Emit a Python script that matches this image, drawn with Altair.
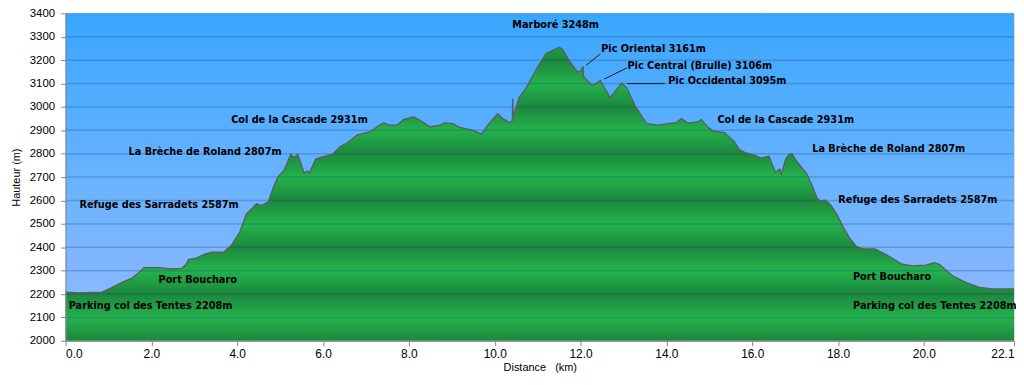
import altair as alt
import pandas as pd

# ---- profile data (km, m) ----
dist_km = [0.0, 0.3, 0.85, 1.05, 1.32, 1.55, 1.71, 1.83, 2.17, 2.45, 2.71, 2.80, 2.87, 3.02, 3.25, 3.40,
           3.68, 3.87, 4.06, 4.21, 4.45, 4.56, 4.72, 4.85, 4.95, 5.10, 5.25, 5.30, 5.37, 5.41, 5.56, 5.64,
           5.68, 5.83, 5.95, 6.22, 6.41, 6.56, 6.80, 7.10, 7.26, 7.41, 7.53, 7.72, 7.88, 8.11, 8.26, 8.49,
           8.72, 8.84, 9.03, 9.15, 9.34, 9.49, 9.69, 9.84, 10.07, 10.19, 10.34, 10.41, 10.42, 10.43, 10.57,
           10.73, 10.96, 11.19, 11.50, 11.58, 11.73, 11.92, 12.00, 12.06, 12.07, 12.27, 12.38, 12.46, 12.69,
           12.81, 12.96, 13.08, 13.27, 13.54, 13.81, 14.04, 14.23, 14.35, 14.50, 14.73, 14.81, 14.96, 15.08,
           15.35, 15.58, 15.70, 15.85, 16.04, 16.20, 16.39, 16.54, 16.64, 16.68, 16.78, 16.87, 16.93, 17.00,
           17.16, 17.27, 17.39, 17.51, 17.58, 17.70, 17.78, 17.85, 17.97, 18.12, 18.28, 18.43, 18.59, 18.86,
           19.05, 19.28, 19.47, 19.74, 20.05, 20.24, 20.36, 20.67, 20.97, 21.28, 21.59, 22.10]
elev_m = [2208, 2205, 2208, 2225, 2250, 2268, 2292, 2313, 2313, 2308, 2310, 2325, 2348, 2352, 2371, 2379,
          2379, 2410, 2465, 2541, 2586, 2579, 2593, 2660, 2701, 2731, 2798, 2785, 2790, 2798, 2717, 2726,
          2717, 2777, 2784, 2798, 2832, 2846, 2881, 2894, 2915, 2933, 2922, 2922, 2947, 2957, 2943, 2915,
          2922, 2932, 2929, 2915, 2906, 2901, 2884, 2922, 2971, 2950, 2933, 2940, 3035, 2957, 3040,
          3081, 3158, 3227, 3255, 3247, 3199, 3151, 3151, 3174, 3130, 3091, 3102, 3113, 3040,
          3068, 3102, 3081, 3005, 2929, 2922, 2929, 2933, 2950, 2931, 2936, 2946, 2915, 2897,
          2890, 2853, 2818, 2804, 2795, 2781, 2790, 2721, 2735, 2715, 2777, 2798, 2800, 2777,
          2739, 2714, 2666, 2611, 2597, 2601, 2590, 2576, 2541, 2486, 2437, 2403, 2393, 2393,
          2375, 2352, 2329, 2320, 2324, 2334, 2327, 2278, 2250, 2230, 2222, 2222]

# ---- labels ----
label_text = ["Marboré 3248m", "Pic Oriental 3161m", "Pic Central (Brulle) 3106m", "Pic Occidental 3095m",
              "Col de la Cascade 2931m", "La Brèche de Roland 2807m", "Refuge des Sarradets 2587m",
              "Port Boucharo", "Parking col des Tentes 2208m",
              "Col de la Cascade 2931m", "La Brèche de Roland 2807m", "Refuge des Sarradets 2587m",
              "Port Boucharo"]
label_km = [11.42, 13.70, 14.78, 15.42, 5.45, 3.25, 2.18, 3.08, 1.98, 16.78, 19.18, 19.86, 19.26]
label_m = [3351, 3246, 3173, 3110, 2946, 2809, 2579, 2260, 2147, 2946, 2822, 2601, 2274]

left_text = ["Parking col des Tentes 2208m"]
left_km = [18.35]
left_m = [2147]

# leader lines
lead_km1 = [12.13, 12.55, 13.09]
lead_m1 = [3178, 3119, 3100]
lead_km2 = [12.46, 13.08, 13.96]
lead_m2 = [3227, 3167, 3100]

x_ticks = [0.0, 2.0, 4.0, 6.0, 8.0, 10.0, 12.0, 14.0, 16.0, 18.0, 20.0, 22.1]
y_ticks = list(range(2000, 3401, 100))

W, H = 956, 330
Y0, Y1 = 2000, 3400
X0, X1 = 0, 22.1

prof = pd.DataFrame({"km": dist_km, "m": elev_m})
labels = pd.DataFrame({"t": label_text, "km": label_km, "m": label_m})
labels_l = pd.DataFrame({"t": left_text, "km": left_km, "m": left_m})
leads = pd.DataFrame({"km1": lead_km1, "m1": lead_m1, "km2": lead_km2, "m2": lead_m2})
grid = pd.DataFrame({"m": y_ticks[1:]})

xs = alt.Scale(domain=[X0, X1], nice=False, zero=False)
ys = alt.Scale(domain=[Y0, Y1], nice=False, zero=False)

XA = alt.Axis(values=x_ticks, format=".1f", title="Distance\u00a0\u00a0\u00a0(km)",
              grid=False, zindex=1, titleBaseline="middle", titleY=27,
              titleFontWeight="normal", labelFontSize=12, labelPadding=3, labelOverlap=False)
YA = alt.Axis(values=y_ticks, format="d", title="Hauteur (m)", grid=False, zindex=1,
              titleX=-49, titleY=H / 2, titleAngle=270, titleAlign="center",
              titleBaseline="middle", titleFontWeight="normal",
              labelFontSize=11.5, labelPadding=6, labelOverlap=False)

# green banded gradient (style), relative to the area's bounding box
emax = max(elev_m)
dark = (28, 136, 60)
light = (36, 178, 78)


def col_at(h):
    # 200 m period: dark at even hundreds, light at odd hundreds
    ph = ((h - 2000) % 200) / 100.0
    t = ph if ph <= 1 else 2 - ph
    c = [round(dark[i] + (light[i] - dark[i]) * t) for i in range(3)]
    return "#%02x%02x%02x" % tuple(c)


levels = [emax] + [h for h in range(3200, 1999, -50) if h < emax]
stops = []
for h in levels:
    off = (emax - h) / (emax - Y0)
    stops.append({"offset": round(off, 4), "color": col_at(h)})

green = {"gradient": "linear", "x1": 0, "y1": 0, "x2": 0, "y2": 1, "stops": stops}
blue = {"gradient": "linear", "x1": 0, "y1": 0, "x2": 0, "y2": 1,
        "stops": [{"offset": 0, "color": "#38a6ff"}, {"offset": 0.5, "color": "#68b3ff"},
                  {"offset": 1, "color": "#95b9ff"}]}

bg = alt.Chart(pd.DataFrame({"a": [0]})).mark_rect(fill=blue, stroke=None).encode(
    x=alt.value(0), x2=alt.value(W), y=alt.value(0), y2=alt.value(H))

XE = alt.X("km:Q", scale=xs, axis=XA)
YE = alt.Y("m:Q", scale=ys, axis=YA, stack=None)

base = alt.Chart(prof)
area = base.mark_area(fill=green, interpolate="linear").encode(x=XE, y=YE, y2=alt.datum(Y0))
line = base.mark_line(color="#5c5c5c", strokeWidth=1.3).encode(x=XE, y=YE)

gridl = alt.Chart(grid).mark_rule(color="#1c3f66", opacity=0.26, strokeWidth=1.5).encode(
    y=YE, x=alt.value(0), x2=alt.value(W))

lead = alt.Chart(leads).mark_rule(color="#1a1a1a", strokeWidth=1).encode(
    x=alt.X("km1:Q", scale=xs, axis=XA), y=alt.Y("m1:Q", scale=ys, axis=YA),
    x2="km2:Q", y2="m2:Q")

txt_style = dict(font="DejaVu Sans", fontWeight="bold", fontSize=9.8, color="black", baseline="middle")
txt = alt.Chart(labels).mark_text(align="center", **txt_style).encode(x=XE, y=YE, text="t:N")
txt_l = alt.Chart(labels_l).mark_text(align="left", **txt_style).encode(x=XE, y=YE, text="t:N")

chart = alt.layer(bg, area, gridl, line, lead, txt, txt_l).properties(
    width=W, height=H,
    autosize=alt.AutoSizeParams(type="none"),
    padding={"left": 58, "top": 4, "right": 2, "bottom": 32},
).configure_view(stroke=None).configure_axis(
    labelFont="DejaVu Sans", labelFontSize=11, labelColor="#333333",
    titleFont="DejaVu Sans", titleFontSize=11.5, titleColor="#333333", titleFontWeight="normal",
    domainColor="black", domainWidth=2, tickColor="black", tickWidth=1.5, tickSize=5,
    labelPadding=4,
).configure(background="white")

chart.save("out.html", embed_options={"renderer": "svg", "actions": False})
